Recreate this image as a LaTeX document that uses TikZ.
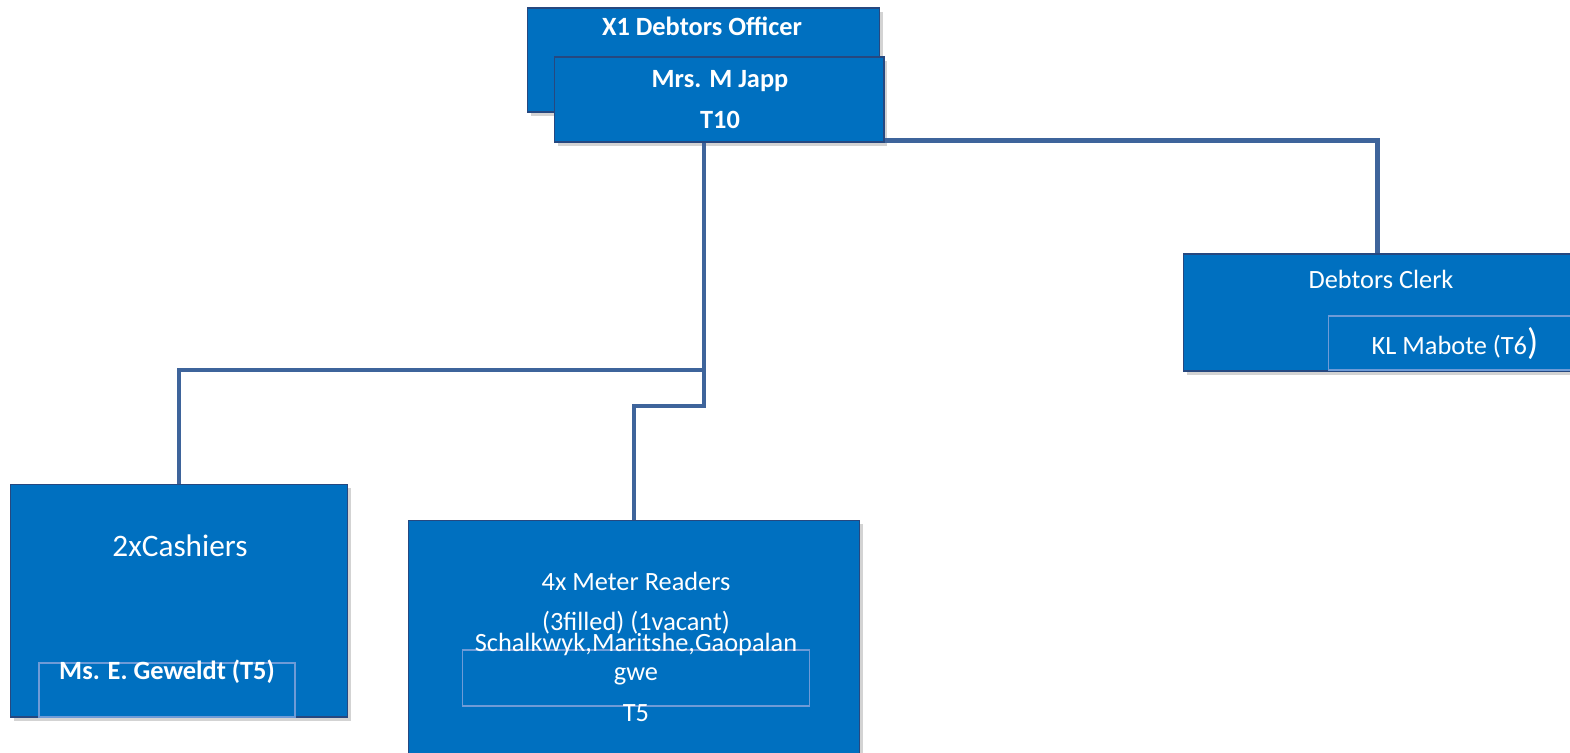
\documentclass[tikz,border=0pt]{standalone}
\usepackage{fontspec}
\setmainfont{Carlito}
\usepackage{tikz}
\usetikzlibrary{shadows}
\definecolor{oFill}{RGB}{0,112,192}
\definecolor{oEdge}{RGB}{38,72,128}
\definecolor{oInner}{RGB}{110,155,215}
\definecolor{oLine}{RGB}{62,100,155}

\begin{document}
\begin{tikzpicture}[
				x=0.02cm,y=-0.02cm,
				box/.style={
					draw=oEdge,line width=0.6pt,fill=oFill,
					drop shadow={opacity=0.35,shadow xshift=2pt,shadow yshift=-2pt},
					inner sep=0pt
				},
				inbox/.style={draw=oInner,line width=0.6pt,inner sep=0pt},
				txt/.style={text=white,font=\fontsize{15}{18}\selectfont,anchor=base,inner sep=0pt},
				btxt/.style={txt,font=\fontsize{15}{18}\selectfont\bfseries},
				link/.style={draw=oLine,line width=2.8pt}
				]
				\useasboundingbox (0,0) rectangle (1570,752);

				% boxes
				\node[box,minimum width=7.06cm,minimum height=2.08cm] (off) at (703.5,60) {};
				\node[box,minimum width=6.6cm,minimum height=1.7cm]   (nm) at (719,99.5) {};
				\node[box,minimum width=7.78cm,minimum height=2.34cm] (clerk) at (1377.5,312.5) {};
				\node[inbox,minimum width=4.88cm,minimum height=1.08cm] (clerkin) at (1450,343) {};
				\node[box,minimum width=6.76cm,minimum height=4.66cm] (cash) at (179,600.5) {};
				\node[inbox,minimum width=5.12cm,minimum height=1.08cm] (cashin) at (167,690) {};
				\node[box,minimum width=9.04cm,minimum height=4.72cm] (mr) at (634,638) {};
				\node[inbox,minimum width=6.96cm,minimum height=1.12cm] (mrin) at (636,678) {};

				% connectors
				\coordinate (j1) at (704,370);
				\coordinate (j2) at (704,406);
				\path[link] (nm.south -| j1) -- (j2) -- (j2 -| mr.north) -- (mr.north);
				\path[link] (j1) -- (j1 -| cash.north) -- (cash.north);
				\path[link] ([yshift=1pt]nm.south east) -- ([yshift=1pt]nm.south east -| clerk.north) -- (clerk.north);

				% texts
				\node[btxt] (t1) at (702,35) {X1 Debtors Officer};
				\node[btxt] (t2) at (720,87) {Mrs. M Japp};
				\node[btxt] (t3) at (720,128) {T10};
				\node[txt] (t4) at (1381,288) {Debtors Clerk};
				\node[txt] (t5) at (1455,354) {KL Mabote (T6{\fontsize{21}{24}\selectfont)}};
				\node[txt,font=\fontsize{17.8}{21}\selectfont] (t6) at (180,556) {2xCashiers};
				\node[btxt] (t7) at (167,679) {Ms. E. Geweldt (T5)};
				\node[txt] (t8) at (636,590) {4x Meter Readers};
				\node[txt] (t9) at (636,630) {(3filled) (1vacant)};
				\node[txt] (t10) at (636,651) {Schalkwyk,Maritshe,Gaopalan};
				\node[txt] (t11) at (636,680) {gwe};
				\node[txt] (t12) at (636,721) {T5};
			\end{tikzpicture}
\end{document}
